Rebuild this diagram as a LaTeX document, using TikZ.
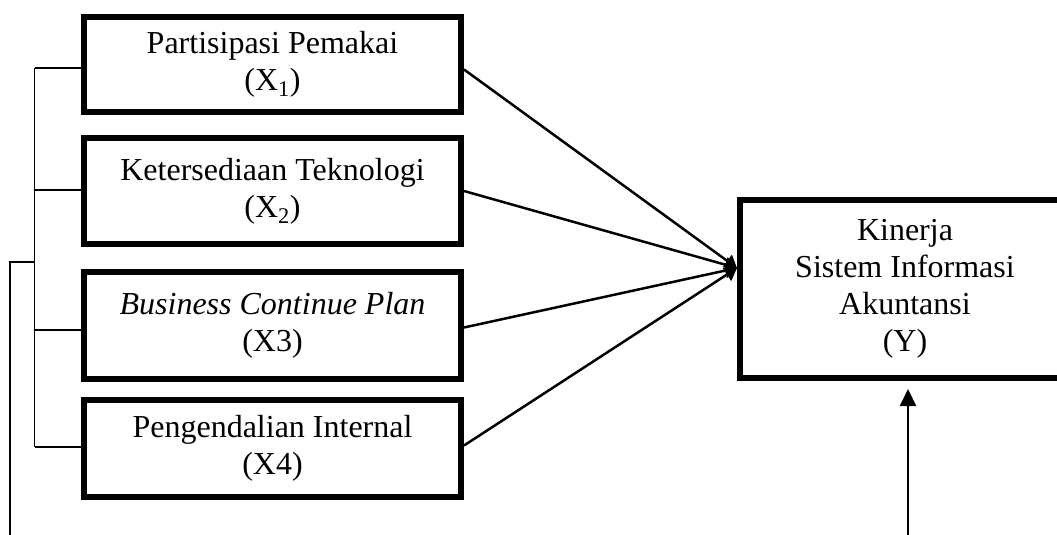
\documentclass[tikz,border=0pt]{standalone}
\usepackage{fontspec}
\setmainfont{Liberation Serif}
\usetikzlibrary{arrows.meta,calc}
\begin{document}
\begin{tikzpicture}[x=1pt,y=-1pt,
  varbox/.style={draw, line width=6pt, minimum width=377pt, align=center,
    font=\fontsize{32}{37}\selectfont, inner sep=0pt},
  link/.style={line width=2.5pt, -{Triangle[length=12pt,width=15pt]}},
  uplink/.style={line width=2pt, -{Triangle[length=17pt,width=16pt]}},
  bracketline/.style={line width=1.6pt}]
\useasboundingbox (0,0) rectangle (1057,535);
\clip (0,0) rectangle (1057,535);
% variable boxes
\node[varbox, minimum height=95pt]  (x1) at (272.5,64.5)  {Partisipasi Pemakai\\(X\textsubscript{1})};
\node[varbox, minimum height=106pt] (x2) at (272.5,191)   {Ketersediaan Teknologi\\(X\textsubscript{2})};
\node[varbox, minimum height=107pt] (x3) at (272.5,325.5) {\textit{Business Continue Plan}\\(X3)};
\node[varbox, minimum height=97pt]  (x4) at (272.5,448.5) {Pengendalian Internal\\(X4)};
\node[varbox, minimum width=330pt, minimum height=178pt] (y) at (905,289)
  {Kinerja\\Sistem Informasi\\Akuntansi\\(Y)};
% converging arrows
\coordinate (tip) at ([yshift=21pt]y.west);
\draw[link] ([yshift=-5pt]x1.east) -- (tip);
\draw[link] (x2.east) -- (tip);
\draw[link] ([yshift=-2pt]x3.east) -- (tip);
\draw[link] ([yshift=3pt]x4.east) -- (tip);
% bracket on the left
\coordinate (b1) at (34.5,68);
\coordinate (b2) at (34.5,190);
\coordinate (b3) at (34.5,330);
\coordinate (b4) at (34.5,447);
\coordinate (bj) at (34.5,262);
\coordinate (ltop) at (10,262);
\coordinate (lbot) at (10,535);
\draw[bracketline] (b1) -- (b4);
\draw[bracketline] (b1) -- (b1 -| x1.west);
\draw[bracketline] (b2) -- (b2 -| x2.west);
\draw[bracketline] (b3) -- (b3 -| x3.west);
\draw[bracketline] (b4) -- (b4 -| x4.west);
\draw[bracketline] (lbot) -- (ltop) -- (bj);
% upward arrow
\coordinate (ub) at (908,535);
\draw[uplink, shorten >=8pt] (ub) -- (ub |- y.south);
\end{tikzpicture}
\end{document}
